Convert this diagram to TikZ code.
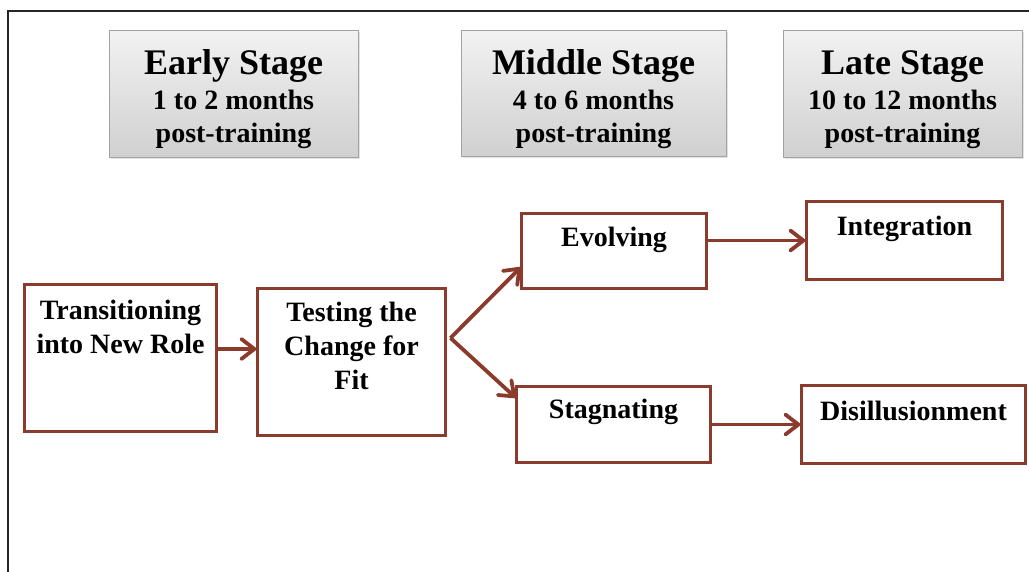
\documentclass[tikz,border=0pt]{standalone}
\usepackage{fontspec}
\setmainfont{Liberation Serif}
\usetikzlibrary{arrows.meta,calc,shadows}

\definecolor{brn}{HTML}{8A3B2C}
\definecolor{hdrtop}{HTML}{F2F2F2}
\definecolor{hdrbot}{HTML}{D0D0D0}
\definecolor{hdrline}{HTML}{A2A2A2}

\begin{document}
\begin{tikzpicture}[x=1pt,y=-1pt,
  hdr/.style={draw=hdrline, line width=1pt, top color=hdrtop, bottom color=hdrbot,
    drop shadow={opacity=0.22, shadow xshift=1.5pt, shadow yshift=-2pt},
    anchor=north west, inner sep=0pt, outer sep=0pt},
  flowbox/.style={draw=brn, line width=3.8pt, fill=white, anchor=north west,
    inner sep=0pt, outer sep=0pt},
  ttl/.style={font=\bfseries\fontsize{36}{40}\selectfont, inner sep=0pt, anchor=base},
  sub/.style={font=\bfseries\fontsize{28}{33}\selectfont, inner sep=0pt, anchor=base},
  flowtxt/.style={font=\bfseries\fontsize{28}{34}\selectfont, align=center,
    inner sep=0pt, anchor=north},
  arr/.style={draw=brn, line width=3.8pt,
    -{Straight Barb[length=13pt,width=20pt,line cap=round]}}]

\useasboundingbox (0,0) rectangle (1029,571);

% outer frame
\draw[line width=1.6pt, black!85] (8,572) -- (8,11) -- (1030,11);

% stage headers
\node[hdr, minimum width=249pt, minimum height=127pt] (h1) at (109,30) {};
\node[hdr, minimum width=265pt, minimum height=126pt] (h2) at (461,30) {};
\node[hdr, minimum width=239pt, minimum height=127pt] (h3) at (783,30) {};

\node[ttl] (h1a) at ($(h1.north)+(0,74-30)$) {Early Stage};
\node[sub] (h1b) at ($(h1.north)+(0,109-30)$) {1 to 2 months};
\node[sub] (h1c) at ($(h1.north)+(0,142-30)$) {post-training};

\node[ttl] (h2a) at ($(h2.north)+(0,74-30)$) {Middle Stage};
\node[sub] (h2b) at ($(h2.north)+(0,109-30)$) {4 to 6 months};
\node[sub] (h2c) at ($(h2.north)+(0,142-30)$) {post-training};

\node[ttl] (h3a) at ($(h3.north)+(0,74-30)$) {Late Stage};
\node[sub] (h3b) at ($(h3.north)+(0,109-30)$) {10 to 12 months};
\node[sub] (h3c) at ($(h3.north)+(0,142-30)$) {post-training};

% process boxes
\node[flowbox, minimum width=192pt, minimum height=147pt] (b1) at (24.5,284.5) {};
\node[flowbox, minimum width=188pt, minimum height=147pt] (b2) at (257.5,288.5) {};
\node[flowbox, minimum width=185pt, minimum height=75pt]  (b3) at (521.5,213.5) {};
\node[flowbox, minimum width=194pt, minimum height=76pt]  (b4) at (516.5,386.5) {};
\node[flowbox, minimum width=196pt, minimum height=78pt]  (b5) at (806.5,201.5) {};
\node[flowbox, minimum width=224pt, minimum height=78pt]  (b6) at (801.5,385.5) {};

\node[flowtxt] (t1) at ($(b1.north)+(0,15.5)$) {Transitioning\\into New Role};
\node[flowtxt] (t2) at ($(b2.north)+(0,13.5)$) {Testing the\\Change for\\Fit};
\node[flowtxt] (t3) at ($(b3.north)+(0,13.5)$) {Evolving};
\node[flowtxt] (t4) at ($(b4.north)+(0,12.5)$) {Stagnating};
\node[flowtxt] (t5) at ($(b5.north)+(0,14.5)$) {Integration};
\node[flowtxt] (t6) at ($(b6.north)+(0,15.5)$) {Disillusionment};

% connectors
\draw[arr] ([yshift=9pt]b1.east) -- ([yshift=9pt]b1.east -| b2.west);
\draw[arr] ([xshift=5pt,yshift=24pt]b2.east) -- ([yshift=22pt]b3.south west);
\draw[arr] ([xshift=5pt,yshift=24pt]b2.east) -- ([yshift=-12pt]b4.north west);
\draw[arr] (b3.east |- b5.west) -- (b5.west);
\draw[arr] (b4.east) -- (b4.east -| b6.west);
\end{tikzpicture}
\end{document}
